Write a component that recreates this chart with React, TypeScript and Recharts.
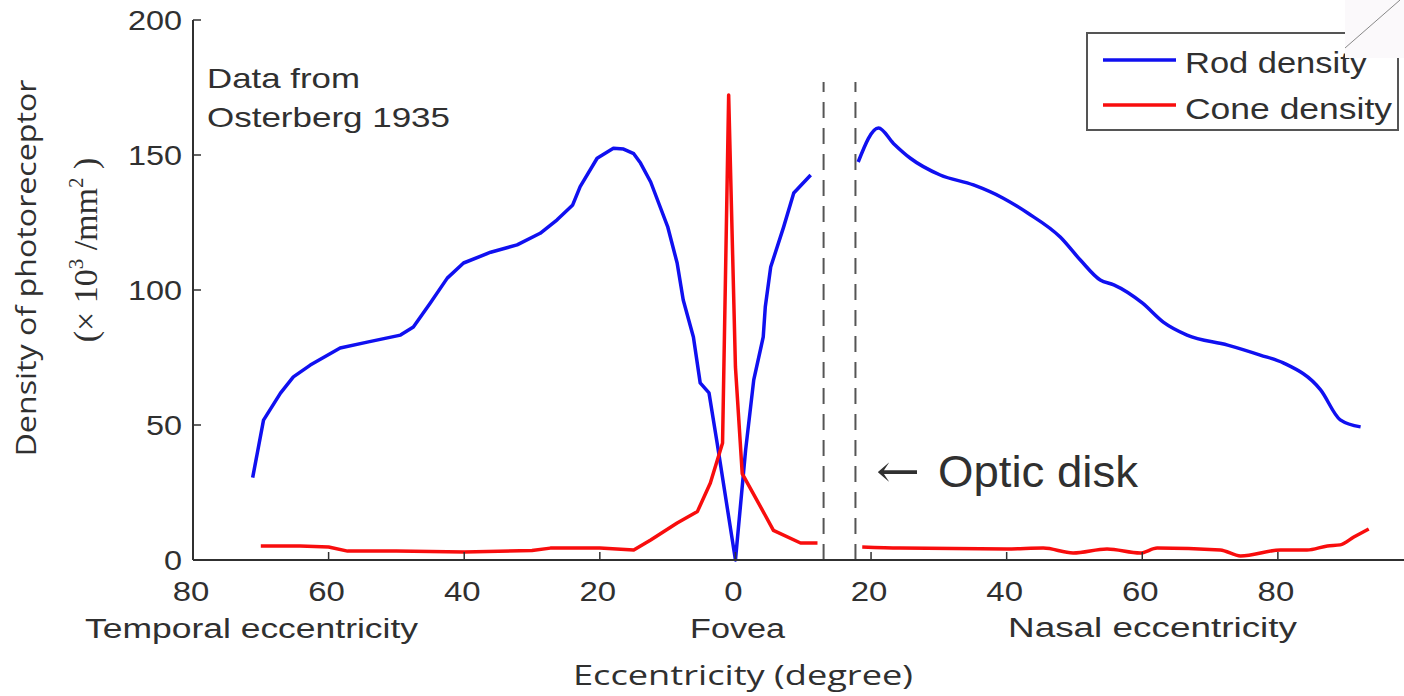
import React from 'react'
import { LineChart, Line, XAxis, YAxis, ReferenceLine } from 'recharts'

// rod density, temporal side through the fovea (deg, 10^3/mm^2)
const rodTemporalDeg = [-71.2, -69.6, -67.1, -65.2, -62.7, -58.3, -54.3, -49.4, -47.5, -45.0, -42.5, -40.1, -36.1, -32.2, -28.8, -26.3, -24.0, -22.9, -20.4, -18.0, -16.5, -15.0, -14.0, -12.5, -10.0, -8.6, -7.7, -6.2, -5.2, -3.9, -2.7, 0, 1.5, 2.7, 4.1, 4.4, 5.2, 7.1, 8.6, 11.1]
const rodTemporalVal = [30.5, 51.8, 61.8, 67.8, 72.2, 78.5, 80.7, 83.3, 86.3, 95.2, 104.4, 110, 114, 116.7, 121, 126, 131.5, 138.3, 148.8, 152.5, 152.2, 150.5, 147, 140, 123.5, 110, 96.3, 82.6, 65.6, 61.9, 43.3, 0, 40.7, 66.7, 82.6, 93.7, 108.5, 123.3, 135.9, 142.6]

// rod density, nasal side past the optic disk
const rodNasalDeg = [18.1, 21.1, 23.3, 25.8, 30.2, 35.1, 39.5, 43.1, 47.9, 50.9, 53.8, 55.8, 60.0, 63.1, 66.6, 72.6, 77.4, 80.8, 86.3, 89.2, 92.2]
const rodNasalVal = [147.4, 160, 154.3, 148.8, 142.6, 138.9, 134, 128.5, 119.6, 111, 103.7, 101.9, 95.2, 88.1, 83.3, 79.6, 75.9, 73, 63, 51.9, 49.3]

// cone density
const coneTemporalDeg = [-70, -64.2, -60, -57.2, -50, -40, -30, -27.3, -20, -15, -12.5, -8.6, -5.6, -3.7, -1.9, -1.0, 0, 1.0, 3.2, 5.6, 9.6, 12.1]
const coneTemporalVal = [5.2, 5.2, 4.8, 3.3, 3.3, 3.0, 3.5, 4.4, 4.4, 3.7, 7.4, 13.7, 18, 28.5, 43.3, 172.2, 71.5, 32, 22, 11, 6.3, 6.3]
const coneNasalDeg = [18.7, 24.3, 40, 45.4, 49.8, 54.8, 59.7, 62.2, 71.5, 74.5, 80.4, 84.3, 87.3, 89.2, 91.2, 93.4]
const coneNasalVal = [4.8, 4.4, 4.1, 4.4, 2.6, 4.1, 2.6, 4.4, 3.7, 1.5, 3.7, 3.7, 5.2, 5.6, 8.5, 11.5]

const xTicks = [-80, -60, -40, -20, 0, 20, 40, 60, 80]
const yTicks = [0, 50, 100, 150, 200]
const opticDiskEdges = [13, 17.7]

const pts = (xs: number[], ys: number[]) => xs.map((x, i) => ({ x, v: ys[i] }))

const rodTemporal = pts(rodTemporalDeg, rodTemporalVal)
const rodNasal = pts(rodNasalDeg, rodNasalVal)
const coneTemporal = pts(coneTemporalDeg, coneTemporalVal)
const coneNasal = pts(coneNasalDeg, coneNasalVal)

const BLUE = '#1010f0'
const RED = '#f80d0d'
const INK = '#303030'
const SANS = '"Liberation Sans", Arial, sans-serif'

function XTick({ x, y, payload }: any) {
  return (
    <g>
      <line x1={x} y1={y} x2={x} y2={y - 8} stroke={INK} strokeWidth={1.5} />
      <text transform={`translate(${x - 2} ${y + 41}) scale(1.22 1)`} textAnchor="middle" fontSize={27} fontFamily={SANS} fill={INK}>
        {Math.abs(payload.value)}
      </text>
    </g>
  )
}

function YTick({ x, y, payload }: any) {
  return (
    <g>
      <line x1={x} y1={y} x2={x + 8} y2={y} stroke={INK} strokeWidth={1.5} />
      <text transform={`translate(${x - 11} ${y + 10}) scale(1.2 1)`} textAnchor="end" fontSize={27} fontFamily={SANS} fill={INK}>
        {payload.value}
      </text>
    </g>
  )
}

export default function App() {
  return (
    <div style={{ position: 'fixed', left: 0, top: 0, width: 1404, height: 696, background: '#fff' }}>
      <LineChart width={1404} height={696} margin={{ top: 20, right: 0, bottom: 0, left: 0 }}>
        <XAxis
          type="number"
          dataKey="x"
          domain={[-80, 98.6]}
          ticks={xTicks}
          allowDataOverflow
          height={136}
          tickSize={0}
          tickMargin={0}
          tick={<XTick />}
          axisLine={{ stroke: INK, strokeWidth: 2 }}
        />
        <YAxis
          type="number"
          domain={[0, 200]}
          ticks={yTicks}
          width={193}
          tickSize={0}
          tickMargin={0}
          tick={<YTick />}
          axisLine={{ stroke: INK, strokeWidth: 2 }}
        />
        {opticDiskEdges.map(d => (
          <ReferenceLine
            key={d}
            segment={[{ x: d, y: 0 }, { x: d, y: 177 }]}
            stroke="#555"
            strokeWidth={2}
            strokeDasharray="16 10"
            ifOverflow="visible"
          />
        ))}
        <Line data={rodTemporal} dataKey="v" type="linear" stroke={BLUE} strokeWidth={3.5} strokeLinejoin="round" dot={false} isAnimationActive={false} />
        <Line data={rodNasal} dataKey="v" type="monotone" stroke={BLUE} strokeWidth={3.5} dot={false} isAnimationActive={false} />
        <Line data={coneTemporal} dataKey="v" type="linear" stroke={RED} strokeWidth={3.5} strokeLinejoin="round" dot={false} isAnimationActive={false} />
        <Line data={coneNasal} dataKey="v" type="monotone" stroke={RED} strokeWidth={3.5} dot={false} isAnimationActive={false} />
      </LineChart>

      <svg width={1404} height={696} style={{ position: 'absolute', left: 0, top: 0, pointerEvents: 'none' }}>
        <g fill={INK} fontFamily={SANS}>
          <text x={207} y={88} fontSize={28} textLength={153} lengthAdjust="spacingAndGlyphs">Data from</text>
          <text x={207} y={127} fontSize={28} textLength={243} lengthAdjust="spacingAndGlyphs">Osterberg 1935</text>
          <text x={85} y={638} fontSize={27} textLength={333} lengthAdjust="spacingAndGlyphs">Temporal eccentricity</text>
          <text x={690} y={638} fontSize={27} textLength={95} lengthAdjust="spacingAndGlyphs">Fovea</text>
          <text x={1008} y={637} fontSize={27} textLength={289} lengthAdjust="spacingAndGlyphs">Nasal  eccentricity</text>
          <text x={876} y={487} fontSize={46} fontFamily='"DejaVu Serif", serif' fontWeight={200} textLength={44} lengthAdjust="spacingAndGlyphs">←</text>
          <text x={938} y={487} fontSize={45} textLength={200} lengthAdjust="spacingAndGlyphs">Optic disk</text>
        </g>
        <text x={573} y={685} fontSize={27} fontFamily='"Open Sans", sans-serif' fill={INK} textLength={340} lengthAdjust="spacingAndGlyphs">
          Eccentricity (degree)
        </text>
        <text transform="translate(36 268) rotate(-90)" textAnchor="middle" fontSize={28} fontFamily='"Open Sans", sans-serif' fill={INK} textLength={377} lengthAdjust="spacingAndGlyphs">
          Density of photoreceptor
        </text>
        <text transform="translate(97 250) rotate(-90)" textAnchor="middle" fontSize={34} fontFamily='"Liberation Serif", serif' fill={INK}>
          (× 10<tspan fontSize={21} dy={-14}>3</tspan><tspan dy={14}> /mm</tspan><tspan fontSize={21} dy={-14}>2</tspan><tspan dy={14}> )</tspan>
        </text>

        {/* legend */}
        <rect x={1087} y={33} width={311} height={97} fill="#fff" stroke="#555" strokeWidth={2} />
        <line x1={1103} y1={60} x2={1176} y2={60} stroke={BLUE} strokeWidth={3.5} />
        <line x1={1103} y1={105} x2={1176} y2={105} stroke={RED} strokeWidth={3.5} />
        <text x={1185} y={73} fontSize={29} fontFamily={SANS} fill={INK} textLength={182} lengthAdjust="spacingAndGlyphs">Rod density</text>
        <text x={1185} y={119} fontSize={29} fontFamily={SANS} fill={INK} textLength={207} lengthAdjust="spacingAndGlyphs">Cone density</text>

        {/* pasted corner over the legend */}
        <rect x={1345} y={0} width={59} height={58} fill="#fbf9fb" />
        <line x1={1345} y1={48} x2={1400} y2={0} stroke="#888" strokeWidth={1} />
      </svg>
    </div>
  )
}
